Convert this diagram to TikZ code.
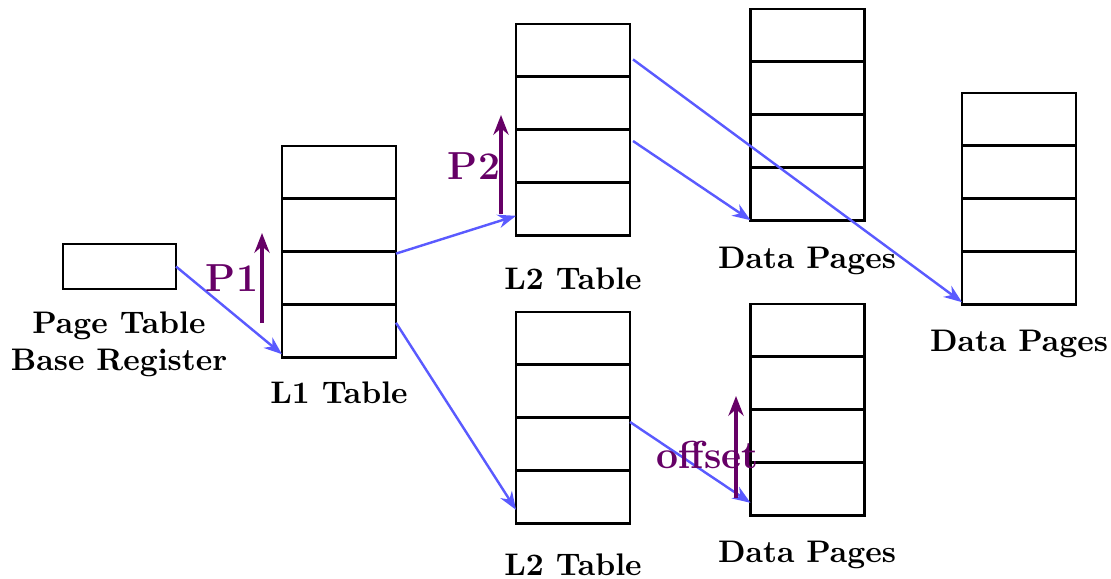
\documentclass[tikz,border=0pt]{standalone}
\usetikzlibrary{arrows.meta,calc}
\definecolor{ptrblue}{RGB}{90,90,255}
\definecolor{lblpurple}{RGB}{102,0,102}
\begin{document}
\begin{tikzpicture}[x=0.33pt,y=-0.33pt,
  cell/.style={draw,line width=0.9pt,minimum width=114*0.33pt,minimum height=52.8*0.33pt,inner sep=0pt,outer sep=0pt},
  regbox/.style={draw,line width=0.9pt,minimum width=113*0.33pt,minimum height=45*0.33pt,inner sep=0pt,outer sep=0pt},
  lbl/.style={font=\fontsize{10.3}{12.2}\selectfont\bfseries,align=center,inner sep=0pt},
  ptr/.style={draw=ptrblue,line width=0.8pt,-{Stealth[length=6pt,width=4.5pt]}},
  idx/.style={draw=lblpurple,line width=1.1pt,-{Stealth[length=6.5pt,width=5pt]}},
  idxlbl/.style={text=lblpurple,font=\fontsize{12.9}{15}\selectfont\bfseries,inner sep=0pt}]
\useasboundingbox (0,0) rectangle (1111,578);
% PTBR
\node[regbox] (ptbr) at (119.5,266.5) {};
\node[lbl] (ptbrl) at (119,344) {Page Table\\Base Register};
% tables
\foreach \nm/\cx/\top in {l1/339/146, l2a/573/24, l2b/573/312, dpa/807.5/9, dpb/807.5/304, dpc/1019/93}{
  \foreach \i/\s in {1/a,2/b,3/c,4/d}{
    \node[cell] (\nm\s) at (\cx,{\top+(\i-0.5)*52.8}) {};
  }
}
\node[lbl] (l1l) at (339,393) {L1 Table};
\node[lbl] (l2al) at (573,279) {L2 Table};
\node[lbl] (l2bl) at (573,565) {L2 Table};
\node[lbl] (dpal) at (807,261) {Data Pages};
\node[lbl] (dpbl) at (807,555) {Data Pages};
\node[lbl] (dpcl) at (1019,344) {Data Pages};
% pointers
\draw[ptr] (ptbr.east) -- ($(l1d.south west)+(0,-3)$);
\draw[ptr] ($(l1c.north east)+(0,2)$) -- ($(l2ad.west)+(0,7)$);
\draw[ptr] ($(l1d.east)+(0,-8)$) -- ($(l2bd.west)+(0,13)$);
\draw[ptr] ($(l2aa.east)+(3,9)$) -- ($(dpcd.south west)+(0,-2)$);
\draw[ptr] ($(l2ac.east)+(3,-15)$) -- ($(dpad.south west)+(0,0)$);
\draw[ptr] ($(l2bc.east)+(0,-22)$) -- ($(dpbd.west)+(0,14)$);
% index arrows
\coordinate (p1s) at (262,323);
\coordinate (p1e) at (262,233);
\draw[idx] (p1s) -- (p1e);
\node[idxlbl] (p1l) at (232,278) {P1};
\coordinate (p2s) at (501,214);
\coordinate (p2e) at (501,115);
\draw[idx] (p2s) -- (p2e);
\node[idxlbl] (p2l) at (474,166) {P2};
\coordinate (ofs) at (736,498);
\coordinate (ofe) at (736,396);
\draw[idx] (ofs) -- (ofe);
\node[idxlbl] (ofl) at (708,455) {offset};
\end{tikzpicture}
\end{document}
